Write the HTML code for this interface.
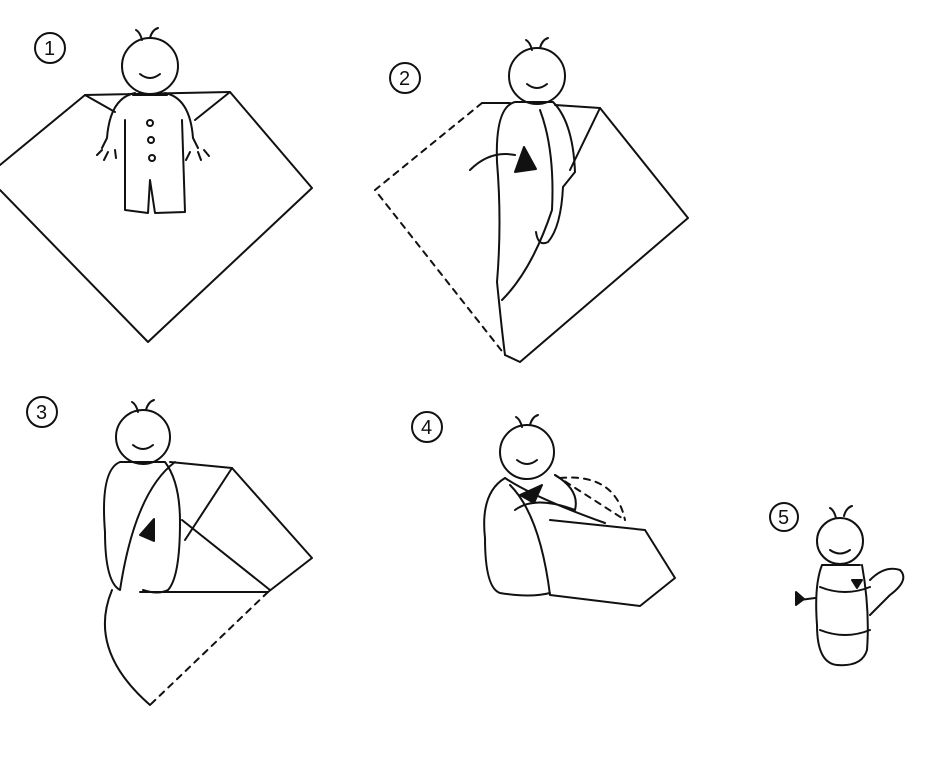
<!DOCTYPE html>
<html><head><meta charset="utf-8"><style>
html,body{margin:0;padding:0;background:#fff;}
svg{display:block}
text{font-family:"Liberation Sans",sans-serif;font-size:20px;fill:#111}
</style></head><body>
<svg width="928" height="768" viewBox="0 0 928 768" xmlns="http://www.w3.org/2000/svg">
<g fill="none" stroke="#111" stroke-width="2" stroke-linecap="round" stroke-linejoin="round">
<!-- numbers -->
<circle cx="50" cy="48" r="15"/><circle cx="405" cy="78" r="15"/><circle cx="42" cy="412" r="15"/><circle cx="427" cy="427" r="15"/><circle cx="784" cy="517" r="14"/>

<!-- Panel 1 -->
<path d="M0 165 L85 95 L230 92 L312 188 L148 342 L0 190"/>
<path d="M85 95 L115 112 M230 92 L195 120"/>
<circle cx="150" cy="66" r="28" fill="#fff"/>
<path d="M142 40 q-2 -8 -6 -10 M150 38 q2 -8 8 -10"/>
<path d="M140 74 q10 8 20 0"/>
<path d="M133 95 h34 M135 93 q-25 5 -28 45 l-5 10 M165 93 q25 5 28 45 l5 10 M125 120 L125 210 L148 213 L150 180 L155 213 L185 212 L182 120"/>
<circle cx="150" cy="123" r="3"/><circle cx="151" cy="140" r="3"/><circle cx="152" cy="158" r="3"/>
<path d="M102 150 l-5 5 M108 152 l-4 8 M115 150 l1 8 M190 152 l-4 8 M198 152 l3 8 M204 150 l5 6"/>

<!-- Panel 2 -->
<path d="M482 103 L375 190 L505 355" stroke-dasharray="6 6"/>
<path d="M482 103 L510 103"/>
<path d="M505 355 L520 362 L688 218 L600 108 L555 105"/>
<path d="M600 108 L570 170"/>
<circle cx="537" cy="76" r="28" fill="#fff"/>
<path d="M532 50 q-2 -8 -6 -10 M540 48 q2 -8 8 -10 M527 84 q10 8 20 0"/>
<path d="M515 102 h38 M515 102 q-20 5 -18 60 q5 60 0 120 q5 50 8 73 M553 102 q20 20 22 70 l-12 15 q-2 40 -15 55 q-10 5 -12 -10 M540 110 q15 40 12 100 q-20 60 -50 90"/>
<path d="M470 170 q20 -20 45 -15"/>
<path d="M515 172 l9 -25 l12 22 z" fill="#111"/>

<!-- Panel 3 -->
<path d="M170 462 L232 468 L312 558 L268 592 L140 592"/>
<path d="M232 468 L185 540 M182 520 L270 590"/>
<path d="M268 592 L150 705" stroke-dasharray="6 6"/>
<path d="M112 590 q-25 60 38 115"/>
<circle cx="143" cy="437" r="27" fill="#fff"/>
<path d="M138 412 q-2 -8 -6 -10 M146 410 q2 -8 8 -10 M133 445 q10 8 20 0"/>
<path d="M120 462 h45 M120 462 q-20 8 -15 70 q0 50 15 58 M165 462 q15 20 15 60 q0 55 -12 68 q-10 5 -25 0 M175 462 q-40 30 -55 128"/>
<path d="M140 535 l14 -16 l0 22 z" fill="#111"/>

<!-- Panel 4 -->
<path d="M555 475 L625 520 M560 478 q55 -5 65 42" stroke-dasharray="6 6"/>
<circle cx="527" cy="452" r="27" fill="#fff"/>
<path d="M522 427 q-2 -8 -6 -10 M530 425 q2 -8 8 -10 M517 460 q10 8 20 0"/>
<path d="M505 478 q-25 15 -20 60 q0 50 15 55 q30 5 50 0 M550 595 L640 606 L675 578 L645 530 L550 520 M505 478 q30 20 100 45 M510 485 q30 30 40 110 M555 475 q25 15 20 35 q-40 -15 -60 0"/>
<path d="M520 495 l22 -10 l-8 18 z" fill="#111"/>

<!-- Panel 5 -->
<circle cx="840" cy="541" r="23" fill="#fff"/>
<path d="M836 518 q-2 -8 -6 -10 M844 516 q2 -8 8 -10 M830 550 q10 7 20 0"/>
<path d="M822 565 h38 M822 565 q-8 20 -5 60 q0 38 20 40 q25 2 30 -15 q3 -40 -5 -85 M820 587 q25 10 50 0 M820 630 q25 10 50 0 M870 580 q15 -15 30 -10 q10 10 -10 25 q-15 15 -20 20 M800 600 l15 -2"/>
<path d="M796 592 l8 7 l-8 6 z M852 580 l10 0 l-5 8 z" fill="#111"/>
</g>
<text x="44" y="55">1</text><text x="399" y="85">2</text><text x="36" y="419">3</text><text x="421" y="434">4</text><text x="778" y="524">5</text>
</svg>
</body></html>
